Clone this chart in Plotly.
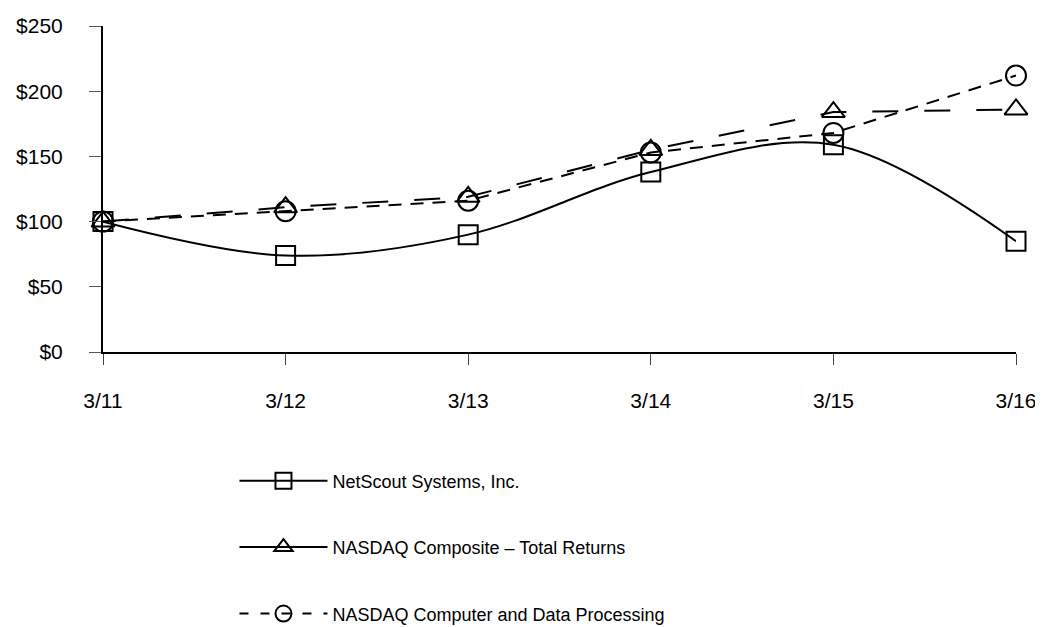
import plotly.graph_objects as go

categories = ["3/11", "3/12", "3/13", "3/14", "3/15", "3/16"]
netscout = [100, 74, 90, 138, 159, 85]
nasdaq_comp = [100, 111, 119, 155, 184, 186]
nasdaq_cdp = [100, 108, 116, 153, 168, 212]
yticks = [0, 50, 100, 150, 200, 250]
ytick_labels = ["$0", "$50", "$100", "$150", "$200", "$250"]
names = ["NetScout Systems, Inc.", "NASDAQ Composite – Total Returns",
         "NASDAQ Computer and Data Processing"]

font_family = "Liberation Sans, Arial, sans-serif"
xs = list(range(len(categories)))

series = [
    (netscout, dict(shape="spline", smoothing=1.0), "square-open", 19, "solid"),
    (nasdaq_comp, dict(dash="26px,26px"), "triangle-up-open", 20, "solid"),
    (nasdaq_cdp, dict(dash="13px,9px"), "circle-open", 20, "9px,12px"),
]

fig = go.Figure()
for i, (vals, lstyle, sym, msize, legdash) in enumerate(series):
    fig.add_trace(go.Scatter(
        x=xs, y=vals, name=names[i], mode="lines+markers",
        showlegend=False, cliponaxis=False,
        line=dict(color="black", width=2, **lstyle),
        marker=dict(symbol=sym, size=msize, color="black", line=dict(width=2)),
    ))
for i, (vals, lstyle, sym, msize, legdash) in enumerate(series):
    fig.add_trace(go.Scatter(
        x=[None], y=[None], name=names[i], mode="lines+markers",
        legendgroup=f"g{i}", showlegend=True,
        line=dict(color="black", width=2, dash=legdash),
        marker=dict(symbol=sym, size=msize, color="black", line=dict(width=2)),
    ))

fig.update_layout(
    width=1035, height=619,
    paper_bgcolor="white", plot_bgcolor="white",
    margin=dict(l=95, r=27, t=18, b=275, autoexpand=False),
    font=dict(family=font_family, size=18, color="black"),
    showlegend=True,
    legend=dict(
        x=0.144, y=-0.339, xanchor="left", yanchor="top",
        orientation="v", traceorder="grouped", tracegroupgap=40,
        font=dict(size=18), itemwidth=88,
    ),
    xaxis=dict(
        range=[0, 5], tickmode="array", tickvals=xs,
        ticktext=categories, showgrid=False, zeroline=False,
        showline=True, linecolor="black", linewidth=2,
        ticks="outside", ticklen=11, tickcolor="#444", tickwidth=1,
        ticklabelstandoff=18, tickfont=dict(size=21),
    ),
    yaxis=dict(
        range=[0, 250], tickmode="array", tickvals=yticks, ticktext=ytick_labels,
        showgrid=False, zeroline=False,
        showline=True, linecolor="black", linewidth=2,
        ticks="outside", ticklen=12, tickcolor="#555", tickwidth=1,
        ticklabelstandoff=22, tickfont=dict(size=21),
    ),
)

fig.write_html("out.html")
